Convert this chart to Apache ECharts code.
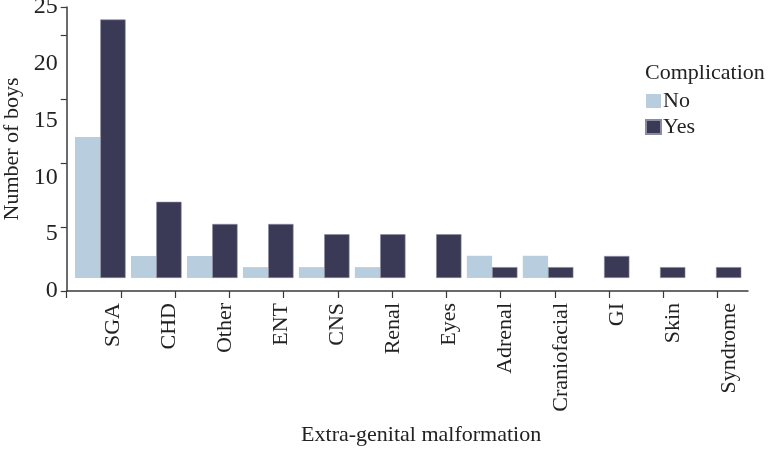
<!DOCTYPE html>
<html>
<head>
<meta charset="utf-8">
<script src="https://cdn.jsdelivr.net/npm/echarts@6/dist/echarts.min.js"></script>
<style>html,body{margin:0;padding:0;background:#fff}#c{width:769px;height:449px}</style>
</head>
<body>
<div id="c"></div>
<script>
const categories = ['SGA','CHD','Other','ENT','CNS','Renal','Eyes','Adrenal','Craniofacial','GI','Skin','Syndrome'];
const seriesNames = ['No','Yes'];
const noTop  = [13.55, 3.08, 3.08, 2.1, 2.1, 2.1, null, 3.1, 3.1, null, null, null];
const yesTop = [23.9, 7.85, 5.9, 5.9, 5.0, 5.0, 5.0, 2.1, 2.1, 3.08, 2.1, 2.1];
const barBase = 1.15;
const yLabelValues = [0, 5, 10, 15, 20, 25];
const yTickValues = [0, 5.63, 11.27, 16.9, 22.53, 25];
const xTickValues = [0,1,2,3,4,5,6,7,8,9,10,11,12];

const FONT = 'Liberation Serif';
const AX = '#3a3a3a';
const TXT = '#222';
const cNo = '#b8cddd';
const cYes = '#3a3a56';

const baseOf = arr => arr.map(v => v == null ? '-' : barBase);
const heightOf = arr => arr.map(v => v == null ? '-' : +(v - barBase).toFixed(3));

const chart = echarts.init(document.getElementById('c'), null, {renderer: 'canvas'});
const hiddenY = (g) => ({type:'value', gridIndex:g, min:0, max:25, show:false});
const gridBase = {top: 7, bottom: 158, outerBoundsMode: 'none', containLabel: false};
chart.setOption({
  animation: false,
  backgroundColor: '#fff',
  title: {text: 'Complication', left: 645, top: 62, padding: 0,
    textStyle: {fontFamily: FONT, fontSize: 22, fontWeight: 'normal', color: TXT}},
  legend: {data: seriesNames, orient: 'vertical', left: 645, top: 90, padding: 0,
    itemWidth: 15, itemHeight: 14, itemGap: 4, icon: 'rect',
    textStyle: {fontFamily: FONT, fontSize: 22, color: TXT, padding: [0,0,0,-3]}},
  grid: [
    Object.assign({left: 72.3, right: 25}, gridBase),
    Object.assign({left: 66.7, right: 21}, gridBase),
    Object.assign({left: 85.3, right: 12}, gridBase)
  ],
  xAxis: [
    {type: 'category', gridIndex: 0, data: categories, show: false},
    {type: 'value', gridIndex: 1, min: 0, max: 12.56,
      axisLine: {show: true, lineStyle: {color: AX, width: 1.5}},
      axisTick: {show: true, inside: false, length: 7, customValues: xTickValues, lineStyle: {color: AX, width: 1.2}},
      axisLabel: {show: false}, splitLine: {show: false}},
    {type: 'category', gridIndex: 2, data: categories,
      axisLine: {show: false}, axisTick: {show: false}, splitLine: {show: false},
      axisLabel: {rotate: 90, margin: 12, fontFamily: FONT, fontSize: 22, color: TXT, interval: 0},
      name: 'Extra-genital malformation', nameLocation: 'middle', nameGap: 133,
      nameTextStyle: {fontFamily: FONT, fontSize: 22, color: TXT}}
  ],
  yAxis: [
    hiddenY(0),
    {type: 'value', gridIndex: 1, min: 0, max: 25,
      axisLine: {show: true, lineStyle: {color: AX, width: 1.5}},
      axisTick: {show: true, inside: false, length: 6, customValues: yTickValues, lineStyle: {color: AX, width: 1.2}},
      axisLabel: {show: true, margin: 9, customValues: yLabelValues, fontFamily: FONT, fontSize: 24, color: TXT},
      splitLine: {show: false},
      name: 'Number of boys', nameLocation: 'middle', nameRotate: 90, nameGap: 43,
      nameTextStyle: {fontFamily: FONT, fontSize: 22, color: TXT}},
    hiddenY(2)
  ],
  series: [
    {name: 'baseNo', type: 'bar', stack: 'no', xAxisIndex: 0, yAxisIndex: 0, data: baseOf(noTop),
      barWidth: 25.3, barGap: '0%', itemStyle: {color: 'rgba(0,0,0,0)'}, silent: true},
    {name: 'No', type: 'bar', stack: 'no', xAxisIndex: 0, yAxisIndex: 0, data: heightOf(noTop),
      barWidth: 25.3, barGap: '0%', itemStyle: {color: cNo}},
    {name: 'baseYes', type: 'bar', stack: 'yes', xAxisIndex: 0, yAxisIndex: 0, data: baseOf(yesTop),
      barWidth: 25.3, barGap: '0%', itemStyle: {color: 'rgba(0,0,0,0)'}, silent: true},
    {name: 'Yes', type: 'bar', stack: 'yes', xAxisIndex: 0, yAxisIndex: 0, data: heightOf(yesTop),
      barWidth: 25.3, barGap: '0%', itemStyle: {color: cYes, borderColor: '#8a8aa0', borderWidth: 0.6}}
  ]
});
</script>
</body>
</html>
